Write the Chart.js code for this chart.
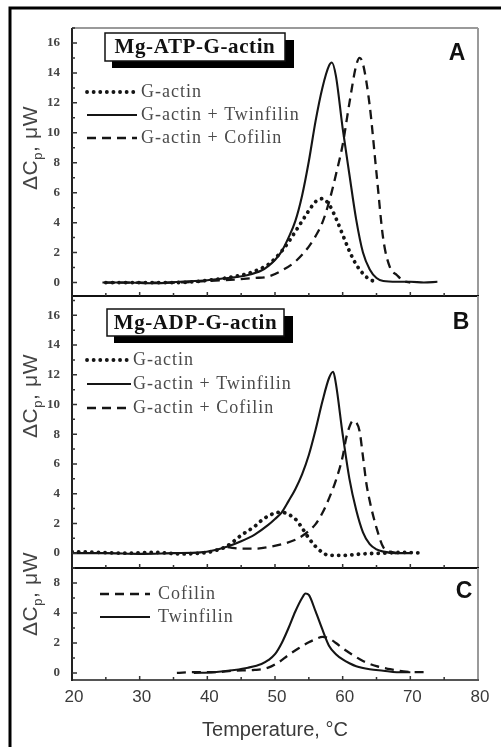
<!DOCTYPE html>
<html>
<head>
<meta charset="utf-8">
<script src="https://cdn.jsdelivr.net/npm/chart.js@4.4.1/dist/chart.umd.min.js"></script>
<style>
    body { margin: 0; background: #fff; }
    .wrap { position: relative; width: 501px; height: 747px; }
    .wrap canvas { position: absolute; left: 0; top: 0; }
</style>
</head>
<body>
<div class="wrap">
    <canvas id="panelA" width="501" height="747"></canvas>
    <canvas id="panelB" width="501" height="747"></canvas>
    <canvas id="panelC" width="501" height="747"></canvas>
</div>
<script>
// Panel A - Mg-ATP-G-actin
const aActinT = [25, 30, 35, 38, 40, 42, 44, 46, 48, 49, 50, 51, 52, 53, 54, 55, 56, 57, 58, 59, 60, 61, 62, 63, 64, 65];
const aActinV = [0, 0, 0, 0.05, 0.15, 0.25, 0.4, 0.6, 0.95, 1.2, 1.6, 2.1, 2.7, 3.4, 4.1, 4.8, 5.4, 5.6, 5.2, 4.3, 3.2, 2.1, 1.2, 0.6, 0.2, 0.05];
const aTwinT = [24.5, 28, 32, 36, 40, 42, 44, 46, 48, 49, 50, 51, 52, 53, 54, 55, 56, 57, 58, 58.4, 59, 60, 61, 62, 63, 64, 65, 66, 68, 70, 72, 74];
const aTwinV = [0, 0, -0.05, 0.05, 0.15, 0.25, 0.35, 0.5, 0.8, 1.1, 1.5, 2.1, 3.0, 4.1, 5.8, 8.1, 10.8, 13.0, 14.5, 14.7, 13.8, 10.3, 7.2, 4.2, 2.0, 0.87, 0.3, 0.1, 0.05, 0.05, 0, 0.05];
const aCofT = [25, 30, 35, 40, 44, 47, 49, 51, 53, 55, 56, 57, 58, 59, 60, 61, 62, 62.5, 63, 64, 65, 66, 67, 68, 69, 70];
const aCofV = [0, 0, 0, 0.1, 0.2, 0.3, 0.4, 0.8, 1.4, 2.4, 3.1, 4.0, 5.4, 7.2, 9.2, 12.0, 14.5, 15.0, 14.6, 11.8, 7.3, 2.9, 1.0, 0.5, 0.1, 0];

// Panel B - Mg-ADP-G-actin
const bActinT = [20, 24, 28, 32, 36, 39, 41, 43, 45, 47, 48, 49, 50, 51, 52, 53, 54, 55, 56, 57, 58, 60, 63, 66, 69, 72];
const bActinV = [0.1, 0.05, 0, 0.05, -0.05, 0, 0.15, 0.5, 1.2, 1.8, 2.2, 2.5, 2.7, 2.75, 2.6, 2.3, 1.7, 1.0, 0.45, 0.05, -0.15, -0.15, -0.05, 0, 0.05, 0];
const bTwinT = [20, 25, 30, 35, 39, 41, 43, 45, 47, 49, 50, 51, 52, 53, 54, 55, 56, 57, 58, 58.6, 59, 60, 61, 62, 63, 64, 65, 66, 68, 70];
const bTwinV = [0, 0, -0.05, 0, 0.05, 0.2, 0.45, 0.8, 1.25, 1.9, 2.3, 2.75, 3.5, 4.3, 5.3, 6.6, 8.3, 10.2, 11.8, 12.2, 11.4, 8.0, 5.0, 2.9, 1.4, 0.6, 0.25, 0.1, 0, 0];
const bCofT = [43, 45, 47, 49, 51, 53, 54, 55, 56, 57, 58, 59, 60, 60.5, 61, 61.5, 62, 62.5, 63, 63.5, 64, 65, 66, 67, 68];
const bCofV = [0.4, 0.3, 0.3, 0.4, 0.6, 0.9, 1.15, 1.5, 1.95, 2.7, 3.7, 4.9, 6.5, 7.7, 8.5, 8.9, 8.8, 8.2, 6.5, 4.7, 3.5, 1.7, 0.4, 0.1, 0];

// Panel C - proteins alone
const cCofT = [35.5, 38, 41, 44, 47, 49, 50.5, 52, 53.5, 55, 56, 57, 58, 59, 60, 61.5, 63, 65, 67, 69, 71, 72.5];
const cCofV = [0, 0.05, 0.05, 0.15, 0.2, 0.35, 0.7, 1.2, 1.65, 2.05, 2.25, 2.4, 2.3, 2.0, 1.65, 1.2, 0.8, 0.45, 0.25, 0.1, 0.05, 0.05];
const cTwinT = [38, 41, 44, 46, 48, 49, 50, 51, 52, 53, 54, 54.5, 55, 56, 57, 58, 59, 60, 61, 62, 64, 66, 68, 70];
const cTwinV = [0, 0.05, 0.2, 0.35, 0.6, 0.85, 1.25, 2.0, 3.0, 4.1, 5.0, 5.3, 5.2, 4.1, 2.9, 1.8, 1.25, 0.9, 0.65, 0.45, 0.25, 0.15, 0.05, 0.05];

// Ticks and labels
const xTicks = [20, 30, 40, 50, 60, 70, 80];
const yTicksAB = [0, 2, 4, 6, 8, 10, 12, 14, 16];
const yTicksC = [0, 2, 4, 6];
const yTickLabelsC = ['0', '2', '4', '8'];
const legendAB = ['G-actin', 'G-actin + Twinfilin', 'G-actin + Cofilin'];
const legendC = ['Cofilin', 'Twinfilin'];

const INK = '#151515';

function pts(t, v) {
    return t.map((x, i) => ({ x: x, y: v[i] }));
}

// line styles
const dotted = { borderDash: [0.1, 6.5], borderWidth: 3.8, borderCapStyle: 'round' };
const solid = { borderDash: [], borderWidth: 2.1, borderCapStyle: 'butt' };
const dashed = { borderDash: [9, 6], borderWidth: 2.3, borderCapStyle: 'butt' };

function makeSet(label, t, v, style) {
    return Object.assign({
        label: label,
        data: pts(t, v),
        borderColor: INK,
        pointRadius: 0,
        fill: false,
        cubicInterpolationMode: 'monotone'
    }, style);
}

// y axis title "ΔCp, μW"
function drawYTitle(ctx, cx, cy) {
    ctx.save();
    ctx.translate(cx, cy);
    ctx.rotate(-Math.PI / 2);
    ctx.fillStyle = '#444';
    ctx.textBaseline = 'middle';
    ctx.textAlign = 'left';
    ctx.letterSpacing = '0.6px';
    const big = '21px "Liberation Sans", Arial, sans-serif';
    const small = '13px "Liberation Sans", Arial, sans-serif';
    ctx.font = big;
    const w1 = ctx.measureText('\u0394C').width;
    const w3 = ctx.measureText(', \u03BCW').width;
    ctx.font = small;
    const w2 = ctx.measureText('p').width;
    let x0 = -(w1 + w2 + w3) / 2;
    ctx.font = big;
    ctx.fillText('\u0394C', x0, 0);
    ctx.font = small;
    ctx.fillText('p', x0 + w1, 7);
    ctx.font = big;
    ctx.fillText(', \u03BCW', x0 + w1 + w2, 0);
    ctx.restore();
}

const panelDecor = {
    id: 'panelDecor',
    afterDraw(chart, args, opts) {
        const ctx = chart.ctx;
        const a = chart.chartArea;
        const xs = chart.scales.x;
        const ys = chart.scales.y;
        ctx.save();

        // frame of plot area
        ctx.lineWidth = 2;
        ctx.strokeStyle = '#9a9a9a';
        ctx.beginPath();
        ctx.moveTo(a.right, a.top);
        ctx.lineTo(a.right, a.bottom);
        if (opts.grayTop) {
            ctx.moveTo(a.left, a.top);
            ctx.lineTo(a.right, a.top);
        }
        ctx.stroke();
        ctx.strokeStyle = opts.bottomColor;
        ctx.beginPath();
        ctx.moveTo(a.left, a.bottom);
        ctx.lineTo(a.right + 1, a.bottom);
        ctx.stroke();
        ctx.strokeStyle = '#222';
        ctx.beginPath();
        ctx.moveTo(a.left, a.top);
        ctx.lineTo(a.left, a.bottom + 1);
        ctx.stroke();

        // x ticks (inside, every 5)
        ctx.strokeStyle = '#333';
        ctx.lineWidth = 1.5;
        ctx.beginPath();
        for (let v = xs.min + 5; v < xs.max; v += 5) {
            const px = xs.getPixelForValue(v);
            const len = v % 10 === 0 ? 4 : 3;
            ctx.moveTo(px, a.bottom);
            ctx.lineTo(px, a.bottom - len);
        }
        ctx.stroke();

        // y ticks (inside, major every 2, minor every 1)
        ctx.beginPath();
        for (let v = Math.ceil(ys.min); v <= ys.max; v += 1) {
            const py = ys.getPixelForValue(v);
            const len = v % 2 === 0 ? 5 : 3;
            ctx.moveTo(a.left, py);
            ctx.lineTo(a.left + len, py);
        }
        ctx.stroke();

        // y tick labels
        ctx.fillStyle = '#444';
        ctx.font = 'bold 13px "Liberation Serif", "Times New Roman", serif';
        ctx.textAlign = 'right';
        ctx.textBaseline = 'middle';
        opts.yTicks.forEach((v, i) => {
            ctx.fillText(opts.yLabels[i], a.left - 12, ys.getPixelForValue(v));
        });

        drawYTitle(ctx, opts.yTitle[0], opts.yTitle[1]);

        // boxed title with shadow
        if (opts.box) {
            const b = opts.box;
            ctx.fillStyle = '#000';
            ctx.fillRect(b.x + 7, b.y + 7, b.w + 2, b.h);
            ctx.fillStyle = '#fff';
            ctx.fillRect(b.x, b.y, b.w, b.h);
            ctx.strokeStyle = '#111';
            ctx.lineWidth = 1.5;
            ctx.strokeRect(b.x, b.y, b.w, b.h);
            ctx.fillStyle = '#111';
            ctx.font = 'bold 21px "Liberation Serif", "Times New Roman", serif';
            ctx.letterSpacing = '0.6px';
            ctx.textAlign = 'center';
            ctx.textBaseline = 'middle';
            ctx.fillText(b.text, b.x + b.w / 2, b.y + b.h / 2 + 1);
            ctx.letterSpacing = '0px';
        }

        // panel letter
        ctx.fillStyle = '#111';
        ctx.font = 'bold 23px "Liberation Sans", Arial, sans-serif';
        ctx.textAlign = 'center';
        ctx.textBaseline = 'middle';
        ctx.fillText(opts.letter[0], opts.letter[1], opts.letter[2]);

        // legend
        const lg = opts.legend;
        chart.data.datasets.forEach((ds, i) => {
            const ly = lg.y[i];
            ctx.strokeStyle = INK;
            ctx.lineWidth = ds.borderWidth;
            ctx.lineCap = ds.borderCapStyle;
            ctx.setLineDash(ds.borderDash);
            ctx.beginPath();
            ctx.moveTo(lg.x0, ly);
            ctx.lineTo(lg.x1, ly);
            ctx.stroke();
            ctx.setLineDash([]);
            ctx.lineCap = 'butt';
            ctx.fillStyle = '#4a4a4a';
            ctx.font = '18px "Liberation Serif", "Times New Roman", serif';
            ctx.letterSpacing = '1px';
            ctx.textAlign = 'left';
            ctx.textBaseline = 'middle';
            ctx.fillText(ds.label, lg.tx, ly);
            ctx.letterSpacing = '0px';
        });

        // shared x axis labels, title and outer frame
        if (opts.xLabels) {
            ctx.fillStyle = '#3a3a3a';
            ctx.font = '17px "Liberation Sans", Arial, sans-serif';
            ctx.textAlign = 'center';
            ctx.textBaseline = 'middle';
            xTicks.forEach(v => {
                ctx.fillText(String(v), xs.getPixelForValue(v) + 2, a.bottom + 17);
            });
            ctx.font = '20px "Liberation Sans", Arial, sans-serif';
            ctx.fillText('Temperature, \u00B0C', (a.left + a.right) / 2, a.bottom + 50);

            ctx.strokeStyle = '#000';
            ctx.lineWidth = 3;
            ctx.beginPath();
            ctx.moveTo(10, 747);
            ctx.lineTo(10, 8);
            ctx.lineTo(501, 8);
            ctx.stroke();
        }
        ctx.restore();
    }
};

function makePanel(id, datasets, yMin, yMax, pad, decor) {
    return new Chart(document.getElementById(id), {
        type: 'line',
        data: { datasets: datasets },
        options: {
            responsive: false,
            animation: false,
            devicePixelRatio: 1,
            layout: { padding: pad },
            scales: {
                x: { type: 'linear', min: 20, max: 80, display: false },
                y: { type: 'linear', min: yMin, max: yMax, display: false }
            },
            plugins: {
                legend: { display: false },
                tooltip: { enabled: false },
                panelDecor: decor
            }
        },
        plugins: [panelDecor]
    });
}

makePanel('panelA', [
    makeSet(legendAB[0], aActinT, aActinV, dotted),
    makeSet(legendAB[1], aTwinT, aTwinV, solid),
    makeSet(legendAB[2], aCofT, aCofV, dashed)
], -0.9, 17, { left: 72, right: 23, top: 28, bottom: 747 - 296 }, {
    grayTop: true,
    bottomColor: '#111',
    yTicks: yTicksAB,
    yLabels: yTicksAB.map(String),
    yTitle: [31, 148],
    box: { x: 105, y: 33, w: 180, h: 28, text: 'Mg-ATP-G-actin' },
    letter: ['A', 457, 54],
    legend: { x0: 87, x1: 137, tx: 141, y: [92, 115, 138] }
});

makePanel('panelB', [
    makeSet(legendAB[0], bActinT, bActinV, dotted),
    makeSet(legendAB[1], bTwinT, bTwinV, solid),
    makeSet(legendAB[2], bCofT, bCofV, dashed)
], -1.0, 17.3, { left: 72, right: 23, top: 296, bottom: 747 - 568 }, {
    grayTop: false,
    bottomColor: '#111',
    yTicks: yTicksAB,
    yLabels: yTicksAB.map(String),
    yTitle: [31, 396],
    box: { x: 107, y: 309, w: 177, h: 27, text: 'Mg-ADP-G-actin' },
    letter: ['B', 461, 323],
    legend: { x0: 87, x1: 131, tx: 133, y: [360, 384, 408] }
});

makePanel('panelC', [
    makeSet(legendC[0], cCofT, cCofV, dashed),
    makeSet(legendC[1], cTwinT, cTwinV, solid)
], -0.47, 7.0, { left: 72, right: 23, top: 568, bottom: 747 - 680 }, {
    grayTop: false,
    bottomColor: '#555',
    yTicks: yTicksC,
    yLabels: yTickLabelsC,
    yTitle: [31, 594],
    letter: ['C', 464, 592],
    legend: { x0: 100, x1: 150, tx: 158, y: [594, 617] },
    xLabels: true
});
</script>
</body>
</html>
